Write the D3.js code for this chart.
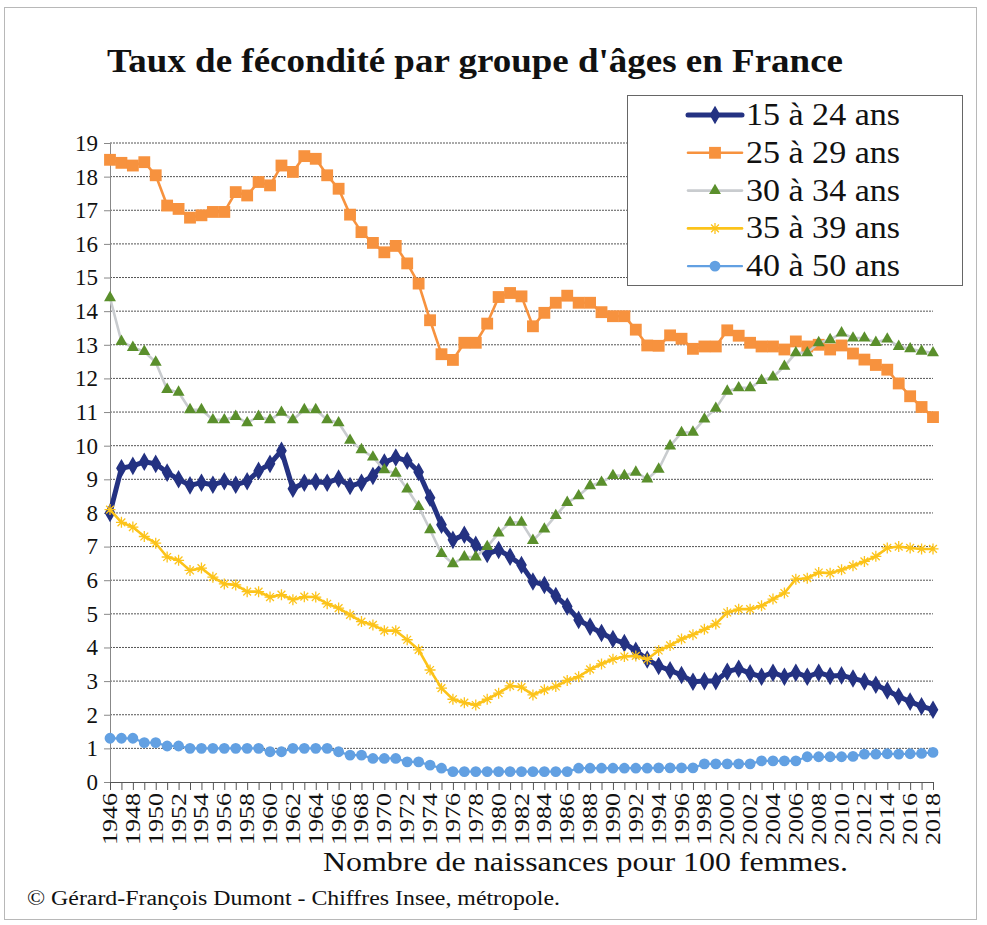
<html>
<head>
<meta charset="utf-8">
<title>Taux de fécondité</title>
<style>
  body { margin: 0; background: #fff; }
</style>
</head>
<body>
<script src="https://d3js.org/d3.v7.min.js"></script>
<script>
var w = 987, h = 925;
var serif = "'Liberation Serif', 'Times New Roman', Times, serif";

// données (naissances pour 100 femmes)
var years = d3.range(1946, 2019);
var yTicks = d3.range(0, 20);
var xTickLabels = d3.range(1946, 2019, 2);

var f15_24 = [8.0, 9.33, 9.4, 9.52, 9.46, 9.2, 9.0, 8.82, 8.9, 8.84,
  8.94, 8.84, 8.94, 9.25, 9.46, 9.85, 8.72, 8.9, 8.93, 8.9,
  9.02, 8.8, 8.9, 9.1, 9.5, 9.65, 9.55, 9.22, 8.45, 7.65,
  7.2, 7.35, 7.05, 6.78, 6.9, 6.7, 6.45, 5.96, 5.86, 5.53,
  5.22, 4.82, 4.62, 4.43, 4.25, 4.13, 3.9, 3.64, 3.45, 3.32,
  3.18, 2.98, 3.0, 3.0, 3.28, 3.37, 3.23, 3.13, 3.25, 3.13,
  3.25, 3.13, 3.25, 3.15, 3.17, 3.08, 2.99, 2.89, 2.72, 2.54,
  2.39, 2.25, 2.15];

var f25_29 = [18.5, 18.41, 18.33, 18.43, 18.04, 17.14, 17.04, 16.78, 16.85, 16.95,
  16.95, 17.54, 17.44, 17.84, 17.74, 18.33, 18.14, 18.61, 18.53, 18.04,
  17.64, 16.87, 16.35, 16.03, 15.75, 15.94, 15.42, 14.82, 13.73, 12.72,
  12.55, 13.06, 13.06, 13.63, 14.42, 14.54, 14.44, 13.55, 13.95, 14.25,
  14.46, 14.25, 14.25, 13.97, 13.85, 13.85, 13.45, 12.98, 12.97, 13.28,
  13.18, 12.88, 12.95, 12.95, 13.43, 13.27, 13.06, 12.95, 12.95, 12.86,
  13.1, 12.95, 13.0, 12.86, 12.98, 12.74, 12.56, 12.4, 12.26, 11.85,
  11.47, 11.15, 10.85];

var f30_34 = [14.4, 13.1, 12.92, 12.8, 12.48, 11.67, 11.59, 11.07, 11.07, 10.77,
  10.77, 10.87, 10.68, 10.87, 10.77, 10.99, 10.77, 11.07, 11.07, 10.77,
  10.68, 10.16, 9.88, 9.66, 9.28, 9.18, 8.71, 8.19, 7.5, 6.79,
  6.49, 6.69, 6.69, 7.0, 7.4, 7.72, 7.72, 7.18, 7.52, 7.92,
  8.31, 8.51, 8.81, 8.91, 9.11, 9.11, 9.21, 9.01, 9.3, 9.99,
  10.39, 10.4, 10.79, 11.11, 11.62, 11.72, 11.72, 11.94, 12.04, 12.36,
  12.76, 12.76, 13.06, 13.15, 13.35, 13.2, 13.2, 13.07, 13.17, 12.95,
  12.88, 12.81, 12.76];

var f35_39 = [8.1, 7.72, 7.58, 7.3, 7.1, 6.69, 6.59, 6.29, 6.36, 6.09,
  5.89, 5.86, 5.66, 5.66, 5.5, 5.57, 5.42, 5.51, 5.5, 5.3,
  5.17, 4.97, 4.77, 4.67, 4.5, 4.5, 4.23, 3.93, 3.33, 2.79,
  2.46, 2.36, 2.29, 2.46, 2.64, 2.86, 2.82, 2.59, 2.74, 2.84,
  3.02, 3.13, 3.35, 3.51, 3.65, 3.73, 3.75, 3.65, 3.91, 4.06,
  4.25, 4.38, 4.54, 4.7, 5.04, 5.14, 5.14, 5.24, 5.44, 5.62,
  6.03, 6.06, 6.23, 6.21, 6.31, 6.43, 6.56, 6.71, 6.96, 7.0,
  6.96, 6.93, 6.93];

var f40_50 = [1.3, 1.3, 1.3, 1.17, 1.17, 1.07, 1.07, 1.0, 1.0, 1.0,
  1.0, 1.0, 1.0, 1.0, 0.9, 0.9, 1.0, 1.0, 1.0, 1.0,
  0.9, 0.8, 0.8, 0.7, 0.7, 0.7, 0.6, 0.6, 0.5, 0.41,
  0.31, 0.31, 0.31, 0.31, 0.31, 0.31, 0.31, 0.31, 0.31, 0.31,
  0.31, 0.41, 0.41, 0.41, 0.41, 0.41, 0.41, 0.41, 0.42, 0.42,
  0.42, 0.42, 0.54, 0.54, 0.54, 0.54, 0.54, 0.63, 0.63, 0.63,
  0.63, 0.75, 0.75, 0.75, 0.75, 0.76, 0.83, 0.83, 0.84, 0.83,
  0.84, 0.85, 0.88];

var seriesNames = ["15 à 24 ans", "25 à 29 ans", "30 à 34 ans", "35 à 39 ans", "40 à 50 ans"];
var seriesValues = [f15_24, f25_29, f30_34, f35_39, f40_50];

var styles = [
  {line: "#243282", width: 5, marker: "diamond", fill: "#243282", size: 70},
  {line: "#f7923e", width: 2.6, marker: "square", fill: "#f7923e", size: 140},
  {line: "#c9cccf", width: 2.6, marker: "triangle", fill: "#5a8f2c", size: 62},
  {line: "#fcc31a", width: 2.6, marker: "star", fill: "#fcc31a", size: 5.5},
  {line: "#62a0e2", width: 2.2, marker: "circle", fill: "#62a0e2", size: 92}
];

var svg = d3.select('body')
            .append('svg')
            .attr('width', w)
            .attr('height', h);

// met un texte à la largeur voulue
function fitText(sel, width) {
  sel.attr('textLength', width).attr('lengthAdjust', 'spacingAndGlyphs');
  return sel;
}

// cadre extérieur
svg.append('rect')
   .attr('x', 4.5).attr('y', 7.5)
   .attr('width', 972).attr('height', 912)
   .attr('fill', 'none')
   .attr('stroke', '#b8b8b8')
   .attr('stroke-width', 1);

var x = d3.scaleLinear().domain([1946, 2018]).range([110, 933]);
var y = d3.scaleLinear().domain([0, 19]).range([782, 143]);

// grille
svg.append('g')
   .selectAll('line')
   .data(yTicks.filter(d => d > 0))
   .enter()
   .append('line')
   .attr('x1', x(1946)).attr('x2', x(2018))
   .attr('y1', d => y(d)).attr('y2', d => y(d))
   .attr('stroke', '#555')
   .attr('stroke-width', 1)
   .attr('stroke-dasharray', '2,1');

// axe des y
var yAxis = svg.append('g')
   .attr('transform', 'translate(' + x(1946) + ',0)')
   .call(d3.axisLeft(y).tickValues(yTicks).tickSize(6).tickPadding(6).tickFormat(d3.format('d')));
yAxis.attr('font-family', serif).attr('font-size', 23);
yAxis.select('.domain').attr('stroke', '#888');
yAxis.selectAll('.tick line').attr('stroke', '#888');
yAxis.selectAll('text')
   .attr('font-family', serif)
   .attr('fill', '#111');

// axe des x
var xAxis = svg.append('g')
   .attr('transform', 'translate(0,' + y(0) + ')')
   .call(d3.axisBottom(x).tickValues(years).tickSize(8).tickFormat(''));
xAxis.select('.domain').attr('stroke', '#555');
xAxis.selectAll('.tick line').attr('stroke', '#555');

svg.append('g')
   .selectAll('text')
   .data(xTickLabels)
   .enter()
   .append('text')
   .attr('transform', d => 'translate(' + (x(d) + 7) + ',' + (y(0) + 11) + ') rotate(-90)')
   .attr('text-anchor', 'end')
   .attr('font-family', serif)
   .attr('font-size', 21)
   .attr('fill', '#111')
   .attr('textLength', 52)
   .attr('lengthAdjust', 'spacingAndGlyphs')
   .text(d => d);

// séries
var line = d3.line()
   .x((d, i) => x(years[i]))
   .y(d => y(d));

function starPath(r) {
  var p = '';
  for (var k = 0; k < 4; k++) {
    var a = k * Math.PI / 4;
    p += 'M' + (-r * Math.cos(a)) + ',' + (-r * Math.sin(a)) + 'L' + (r * Math.cos(a)) + ',' + (r * Math.sin(a));
  }
  return p;
}

function drawMarker(g, st, cx, cy) {
  if (st.marker === 'star') {
    g.append('path')
     .attr('d', starPath(st.size))
     .attr('transform', 'translate(' + cx + ',' + cy + ')')
     .attr('stroke', st.fill)
     .attr('stroke-width', 1.3)
     .attr('fill', 'none');
    return;
  }
  var types = {diamond: d3.symbolDiamond, square: d3.symbolSquare, triangle: d3.symbolTriangle, circle: d3.symbolCircle};
  g.append('path')
   .attr('d', d3.symbol().type(types[st.marker]).size(st.size)())
   .attr('transform', 'translate(' + cx + ',' + cy + ')')
   .attr('fill', st.fill)
   .attr('stroke', st.marker === 'diamond' ? st.fill : 'none')
   .attr('stroke-width', 1.5);
}

seriesValues.forEach(function(vals, s) {
  var st = styles[s];
  var g = svg.append('g');
  g.append('path')
   .datum(vals)
   .attr('d', line)
   .attr('fill', 'none')
   .attr('stroke', st.line)
   .attr('stroke-width', st.width)
   .attr('stroke-linejoin', 'round');
  vals.forEach(function(v, i) {
    drawMarker(g, st, x(years[i]), y(v));
  });
});

// légende
var lg = svg.append('g');
lg.append('rect')
  .attr('x', 627.5).attr('y', 95.5)
  .attr('width', 335).attr('height', 190)
  .attr('fill', '#fff')
  .attr('stroke', '#666')
  .attr('stroke-width', 1);

seriesNames.forEach(function(name, s) {
  var st = styles[s];
  var cy = 115 + s * 37.8;
  lg.append('line')
    .attr('x1', 688).attr('x2', 742)
    .attr('y1', cy).attr('y2', cy)
    .attr('stroke', st.line)
    .attr('stroke-width', st.width)
    .attr('stroke-linecap', 'round');
  drawMarker(lg, st, 715, cy);
  fitText(lg.append('text')
    .attr('x', 746)
    .attr('y', cy + 10)
    .attr('font-family', serif)
    .attr('font-size', 31)
    .attr('fill', '#111')
    .text(name), 154);
});

// titres
fitText(svg.append('text')
   .attr('x', 107)
   .attr('y', 72)
   .attr('font-family', serif)
   .attr('font-size', 34)
   .attr('font-weight', 'bold')
   .attr('fill', '#111')
   .text("Taux de fécondité par groupe d'âges en France"), 736);

fitText(svg.append('text')
   .attr('x', 323)
   .attr('y', 871)
   .attr('font-family', serif)
   .attr('font-size', 27)
   .attr('fill', '#111')
   .text('Nombre de naissances pour 100 femmes.'), 525);

fitText(svg.append('text')
   .attr('x', 27)
   .attr('y', 905)
   .attr('font-family', serif)
   .attr('font-size', 20)
   .attr('fill', '#111')
   .text('© Gérard-François Dumont - Chiffres Insee, métropole.'), 533);
</script>
</body>
</html>
